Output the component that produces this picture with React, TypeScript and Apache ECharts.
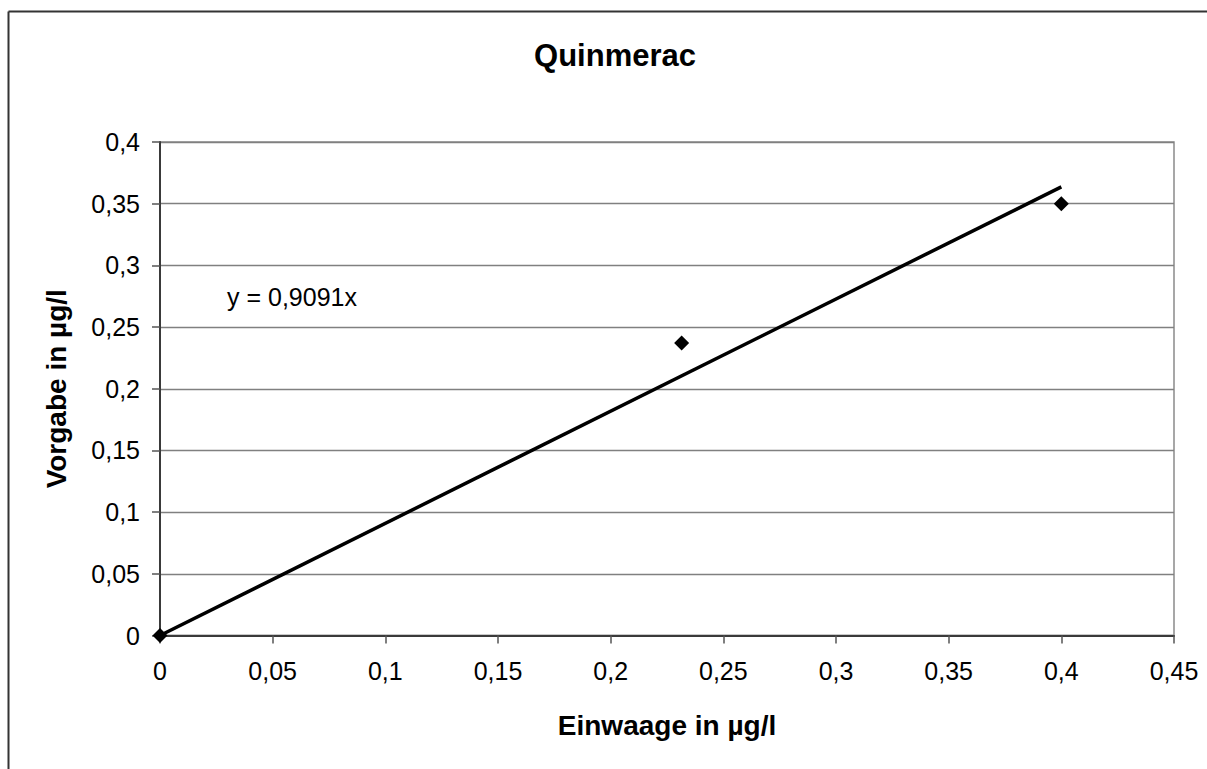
import React, { useEffect, useRef } from "react";
import * as echarts from "echarts";

const TITLE = "Quinmerac";
const X_NAME = "Einwaage in µg/l";
const Y_NAME = "Vorgabe in µg/l";
const EQUATION = "y = 0,9091x";

const einwaage = [0, 0.2315, 0.4];
const vorgabe = [0, 0.237, 0.35];

const trendSlope = 0.9091;
const trendX = [0, 0.4];

const FONT = "'Liberation Sans', Arial, sans-serif";

const fmt = (v: number) => String(parseFloat(Number(v).toFixed(3))).replace(".", ",");

export default function App() {
  const ref = useRef<HTMLDivElement>(null);
  useEffect(() => {
    if (!ref.current) return;
    const chart = echarts.init(ref.current, undefined, { renderer: "svg" });
    const points = einwaage.map((x, i) => [x, vorgabe[i]]);
    const trend = trendX.map((x) => [x, trendSlope * x]);
    chart.setOption({
      animation: false,
      backgroundColor: "#ffffff",
      grid: {
        left: 160,
        top: 142,
        right: 33,
        bottom: 133.5,
        show: true,
        borderColor: "#8a8a8a",
        borderWidth: 1.5,
        backgroundColor: "transparent",
      },
      xAxis: {
        type: "value",
        min: 0,
        max: 0.45,
        interval: 0.05,
        name: X_NAME,
        nameLocation: "middle",
        nameGap: 76,
        nameTextStyle: { fontFamily: FONT, fontSize: 28, fontWeight: "bold", color: "#000" },
        axisLine: { show: true, onZero: false, lineStyle: { color: "#3a3a3a", width: 2 } },
        axisTick: { show: true, length: 8, lineStyle: { color: "#555", width: 1.5 } },
        axisLabel: { formatter: fmt, fontFamily: FONT, fontSize: 25, color: "#000", margin: 23 },
        splitLine: { show: false },
      },
      yAxis: {
        type: "value",
        min: 0,
        max: 0.4,
        interval: 0.05,
        name: Y_NAME,
        nameLocation: "middle",
        nameGap: 90,
        nameTextStyle: { fontFamily: FONT, fontSize: 28, fontWeight: "bold", color: "#000" },
        axisLine: { show: true, onZero: false, lineStyle: { color: "#3a3a3a", width: 2 } },
        axisTick: { show: true, length: 8, lineStyle: { color: "#555", width: 1.5 } },
        axisLabel: { formatter: fmt, fontFamily: FONT, fontSize: 25, color: "#000", margin: 20 },
        splitLine: { show: true, lineStyle: { color: "#808080", width: 1.3 } },
      },
      graphic: [
        {
          type: "line",
          shape: { x1: 8.5, y1: 11.5, x2: 1207, y2: 11.5 },
          style: { stroke: "#333", lineWidth: 2 },
          silent: true,
        },
        {
          type: "line",
          shape: { x1: 8.5, y1: 11.5, x2: 8.5, y2: 769 },
          style: { stroke: "#333", lineWidth: 2 },
          silent: true,
        },
        {
          type: "text",
          x: 615,
          y: 55,
          style: {
            text: TITLE,
            font: `bold 31px ${FONT}`,
            fill: "#000",
            textAlign: "center",
            textVerticalAlign: "middle",
          },
        },
        {
          type: "text",
          x: 227,
          y: 297,
          style: {
            text: EQUATION,
            font: `25px ${FONT}`,
            fill: "#000",
            textAlign: "left",
            textVerticalAlign: "middle",
          },
        },
      ],
      series: [
        {
          type: "line",
          data: trend,
          symbol: "none",
          lineStyle: { color: "#000", width: 3.5 },
          z: 2,
        },
        {
          type: "scatter",
          data: points,
          symbol: "diamond",
          symbolSize: 15,
          itemStyle: { color: "#000", opacity: 1 },
          z: 3,
        },
      ],
    });
    return () => chart.dispose();
  }, []);
  return (
    <div
      ref={ref}
      style={{ position: "fixed", left: 0, top: 0, width: 1207, height: 769, background: "#fff" }}
    />
  );
}
